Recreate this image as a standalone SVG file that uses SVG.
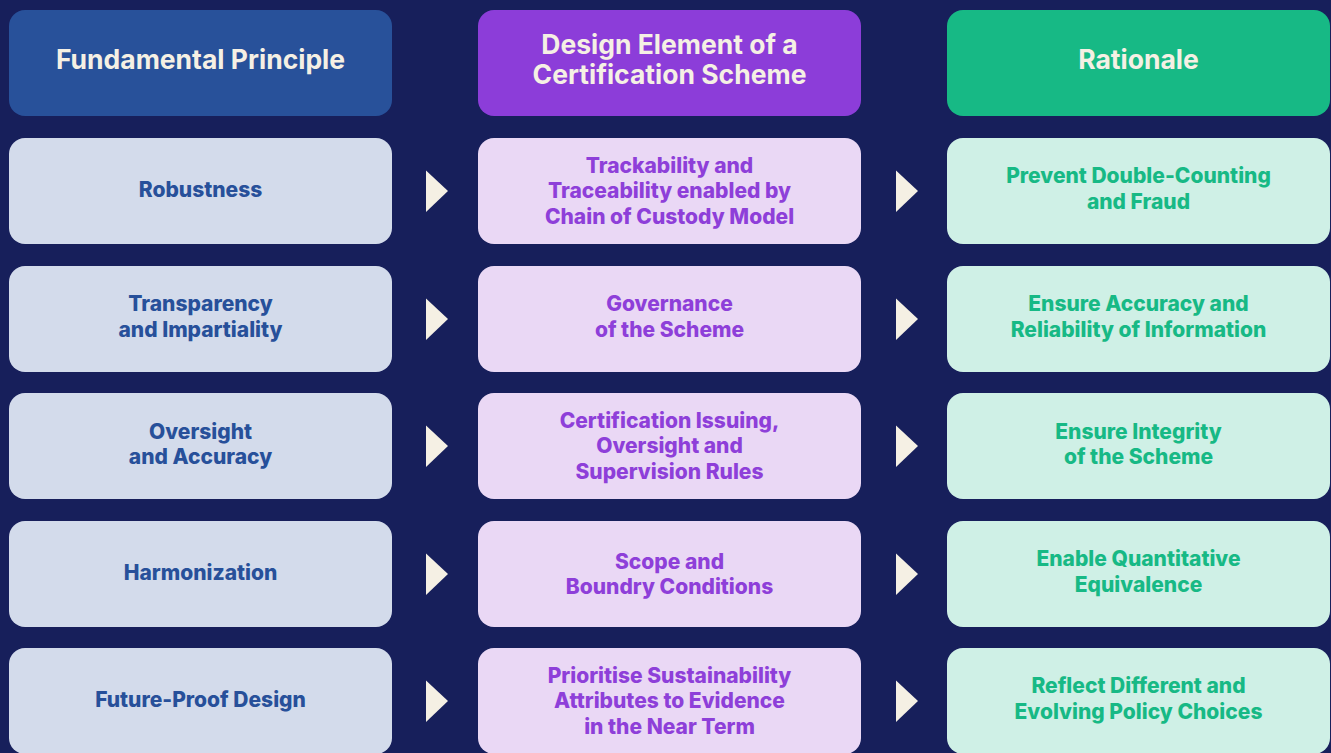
<svg xmlns="http://www.w3.org/2000/svg" width="1331" height="753" viewBox="0 0 1331 753">
<style>
text{font-family:"Inter","Open Sans","Liberation Sans",sans-serif;font-weight:800;text-anchor:middle}
.h{font-size:26.5px;font-weight:700;fill:#F5F0E4}
.t{font-size:21px}
.b{fill:#D3DBEB}.bt{fill:#27509A}
.p{fill:#EAD8F5}.pt{fill:#8E3FD9}
.g{fill:#CFF0E6}.gt{fill:#17B985}
.arr{fill:#F5F0E4}
</style>
<rect width="1331" height="753" fill="#171F5B"/>
<g id="hdr-principle"><rect x="9" y="10" width="383" height="106" rx="16" fill="#28519A"/><text class="h" x="200.5" y="69">Fundamental Principle</text></g>
<g id="hdr-design"><rect x="478" y="10" width="383" height="106" rx="16" fill="#8C3DD9"/><text class="h" x="669.5" y="54">Design Element of a</text><text class="h" x="669.5" y="84">Certification Scheme</text></g>
<g id="hdr-rationale"><rect x="947" y="10" width="383" height="106" rx="16" fill="#17B985"/><text class="h" x="1138.5" y="69">Rationale</text></g>

<g id="r1-principle"><rect class="b" x="9" y="138" width="383" height="106" rx="16"/><text class="t bt" x="200.5" y="197">Robustness</text></g>
<g id="r1-design"><rect class="p" x="478" y="138" width="383" height="106" rx="16"/><text class="t pt" x="669.5" y="172.5">Trackability and</text><text class="t pt" x="669.5" y="198">Traceability enabled by</text><text class="t pt" x="669.5" y="223.5">Chain of Custody Model</text></g>
<g id="r1-rationale"><rect class="g" x="947" y="138" width="383" height="106" rx="16"/><text class="t gt" x="1138.5" y="183">Prevent Double-Counting</text><text class="t gt" x="1138.5" y="208.5">and Fraud</text></g>

<g id="r2-principle"><rect class="b" x="9" y="266" width="383" height="106" rx="16"/><text class="t bt" x="200.5" y="311">Transparency</text><text class="t bt" x="200.5" y="336.5">and Impartiality</text></g>
<g id="r2-design"><rect class="p" x="478" y="266" width="383" height="106" rx="16"/><text class="t pt" x="669.5" y="311">Governance</text><text class="t pt" x="669.5" y="336.5">of the Scheme</text></g>
<g id="r2-rationale"><rect class="g" x="947" y="266" width="383" height="106" rx="16"/><text class="t gt" x="1138.5" y="311">Ensure Accuracy and</text><text class="t gt" x="1138.5" y="336.5">Reliability of Information</text></g>

<g id="r3-principle"><rect class="b" x="9" y="393" width="383" height="106" rx="16"/><text class="t bt" x="200.5" y="438.5">Oversight</text><text class="t bt" x="200.5" y="464">and Accuracy</text></g>
<g id="r3-design"><rect class="p" x="478" y="393" width="383" height="106" rx="16"/><text class="t pt" x="669.5" y="427.5">Certification Issuing,</text><text class="t pt" x="669.5" y="453">Oversight and</text><text class="t pt" x="669.5" y="478.5">Supervision Rules</text></g>
<g id="r3-rationale"><rect class="g" x="947" y="393" width="383" height="106" rx="16"/><text class="t gt" x="1138.5" y="438.5">Ensure Integrity</text><text class="t gt" x="1138.5" y="464">of the Scheme</text></g>

<g id="r4-principle"><rect class="b" x="9" y="521" width="383" height="106" rx="16"/><text class="t bt" x="200.5" y="580">Harmonization</text></g>
<g id="r4-design"><rect class="p" x="478" y="521" width="383" height="106" rx="16"/><text class="t pt" x="669.5" y="568.5">Scope and</text><text class="t pt" x="669.5" y="594">Boundry Conditions</text></g>
<g id="r4-rationale"><rect class="g" x="947" y="521" width="383" height="106" rx="16"/><text class="t gt" x="1138.5" y="566">Enable Quantitative</text><text class="t gt" x="1138.5" y="591.5">Equivalence</text></g>

<g id="r5-principle"><rect class="b" x="9" y="648" width="383" height="106" rx="16"/><text class="t bt" x="200.5" y="707">Future-Proof Design</text></g>
<g id="r5-design"><rect class="p" x="478" y="648" width="383" height="106" rx="16"/><text class="t pt" x="669.5" y="682.5">Prioritise Sustainability</text><text class="t pt" x="669.5" y="708">Attributes to Evidence</text><text class="t pt" x="669.5" y="733.5">in the Near Term</text></g>
<g id="r5-rationale"><rect class="g" x="947" y="648" width="383" height="106" rx="16"/><text class="t gt" x="1138.5" y="693">Reflect Different and</text><text class="t gt" x="1138.5" y="718.5">Evolving Policy Choices</text></g>

<g id="connectors" class="arr">
<polygon points="426,170.5 448,191 426,212"/><polygon points="896,170.5 918,191 896,212"/>
<polygon points="426,298.5 448,319 426,340"/><polygon points="896,298.5 918,319 896,340"/>
<polygon points="426,425.5 448,446 426,467"/><polygon points="896,425.5 918,446 896,467"/>
<polygon points="426,553.5 448,574 426,595"/><polygon points="896,553.5 918,574 896,595"/>
<polygon points="426,680.5 448,701 426,722"/><polygon points="896,680.5 918,701 896,722"/>
</g>
</svg>
